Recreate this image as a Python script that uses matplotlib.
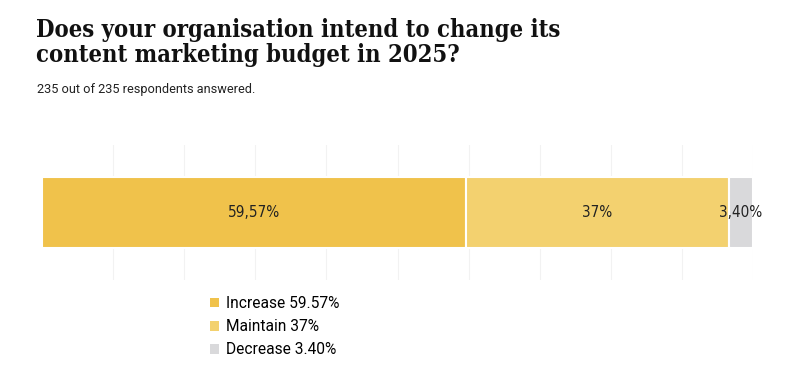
import matplotlib.pyplot as plt
from matplotlib.patches import Patch

# datos
categorias = ["Increase", "Maintain", "Decrease"]
valores = [59.57, 37.0, 3.40]
etiquetas_barra = ["59,57%", "37%", "3,40%"]
etiquetas_leyenda = ["Increase 59.57%", "Maintain 37%", "Decrease 3.40%"]
colores = ["#F0C24B", "#F3D16F", "#D9D9DB"]

fig = plt.figure(figsize=(8, 3.91), dpi=100)
ax = fig.add_axes([42 / 800, 1 - 280 / 391, 711 / 800, 135 / 391])

izq = 0
for cat, v, et, c in zip(categorias, valores, etiquetas_barra, colores):
    ax.barh(0, v, left=izq, height=1.05, color=c, edgecolor="white", linewidth=1.5, zorder=2)
    ax.text(izq + v / 2, 0, et, ha="center", va="center", fontsize=11,
            fontstretch="condensed", color="#222222", zorder=3)
    izq += v

ax.set_xlim(0, 100)
ax.set_ylim(-1, 1)
ax.set_xticks(range(10, 101, 10))
ax.grid(axis="x", color="#F2F2F2", linewidth=0.8, zorder=0)
ax.tick_params(left=False, bottom=False, labelleft=False, labelbottom=False)
for s in ax.spines.values():
    s.set_visible(False)

# titulo y subtitulo
fig.text(36 / 800, 1 - 18 / 391, "Does your organisation intend to change its\ncontent marketing budget in 2025?",
         ha="left", va="top", fontsize=17, fontweight="bold", family="DejaVu Serif",
         fontstretch="condensed", linespacing=1.05, color="#111111")
fig.text(37 / 800, 1 - 89 / 391, "235 out of 235 respondents answered.", ha="left", va="center",
         fontsize=9.2, family="Roboto", color="#222222")

# leyenda
handles = [Patch(facecolor=c, edgecolor="none") for c in colores]
fig.legend(handles, etiquetas_leyenda, loc="upper left", bbox_to_anchor=(210 / 800, 1 - 296 / 391),
           frameon=False, prop={"family": "Roboto", "size": 11.2},
           handlelength=0.6, handleheight=0.6, handletextpad=0.45, labelspacing=0.52,
           borderaxespad=0, borderpad=0)

plt.savefig("out.png", dpi=100)
plt.close()
